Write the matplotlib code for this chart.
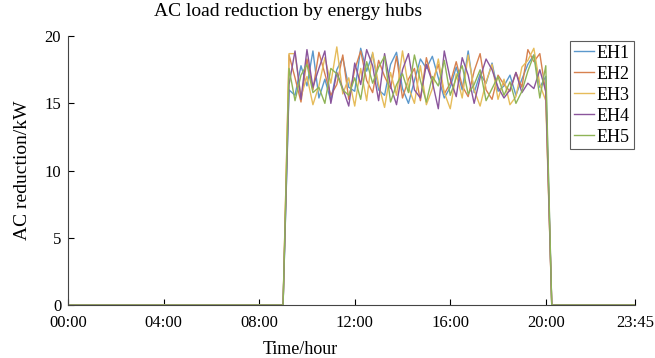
import numpy as np
import matplotlib.pyplot as plt

plt.rcParams['font.family'] = ['Liberation Serif', 'DejaVu Serif']

# 96 quarter-hour slots, 00:00 .. 23:45
slots = np.arange(96) * 0.25

# AC reduction (kW) while the hubs are active, 09:15 .. 20:00
on_start = 37
eh1 = [16.0, 15.6, 17.8, 16.3, 18.9, 15.4, 16.8, 15.2, 17.5, 18.4, 16.2, 15.9, 19.1, 17.4,
       18.7, 16.0, 15.6, 17.9, 18.8, 16.1, 15.0, 16.7, 18.3, 17.6, 18.5, 16.9, 15.4, 16.2,
       17.7, 16.0, 18.9, 15.8, 17.2, 16.5, 18.0, 15.9, 16.3, 17.1, 15.6, 16.8, 17.9, 18.6,
       16.2, 17.0]
eh2 = [18.6, 16.9, 15.1, 18.3, 16.0, 18.8, 17.2, 15.6, 16.4, 18.6, 15.3, 17.5, 18.9, 16.7,
       15.8, 18.2, 17.0, 16.1, 18.5, 15.4, 16.8, 17.6, 15.2, 18.4, 16.6, 17.9, 15.7, 16.5,
       18.1, 16.3, 15.5, 17.4, 18.7, 16.0, 15.3, 17.1, 16.4, 15.9, 17.3, 16.2, 19.0, 18.1,
       18.7, 15.8]
eh3 = [18.7, 18.7, 15.5, 17.0, 14.9, 16.3, 18.4, 16.5, 19.2, 15.7, 16.9, 14.8, 17.6, 15.2,
       18.8, 16.4, 14.7, 17.3, 15.6, 18.9, 16.2, 15.0, 17.8, 14.9, 16.1, 18.3, 15.8, 14.6,
       17.2, 15.4, 18.6, 16.0, 14.8, 16.6, 17.9, 15.3, 16.8, 14.9, 15.5, 17.7, 18.2, 19.1,
       16.4, 15.2]
eh4 = [16.4, 18.9, 15.3, 19.0, 16.2, 17.6, 18.9, 15.0, 17.3, 16.1, 14.8, 18.0, 16.4, 19.0,
       17.8, 15.2, 18.7, 16.3, 14.9, 17.5, 18.7, 16.0, 15.4, 17.9, 16.6, 14.6, 18.9, 16.8,
       15.5, 18.4, 17.1, 15.0, 16.9, 18.3, 17.5, 16.2, 15.4, 16.0, 17.3, 15.8, 16.5, 16.1,
       17.5, 15.9]
eh5 = [17.6, 15.2, 17.1, 17.9, 15.8, 16.2, 15.0, 17.6, 17.2, 16.0, 15.6, 16.9, 15.3, 18.1,
       16.5, 17.7, 18.5, 15.1, 16.4, 17.2, 15.8, 18.6, 16.7, 15.1, 17.0, 16.3, 18.2, 15.6,
       16.9, 17.8, 15.7, 16.4, 17.5, 15.2, 16.1, 17.0, 15.6, 16.6, 15.0, 15.9, 17.4, 18.6,
       15.4, 17.8]

names = ['EH1', 'EH2', 'EH3', 'EH4', 'EH5']
colors = ['#5b98cc', '#d7814f', '#e6bc5a', '#8a559c', '#8fb457']
tick_pos = [0, 4, 8, 12, 16, 20, 23.75]
tick_lab = ['00:00', '04:00', '08:00', '12:00', '16:00', '20:00', '23:45']

fig = plt.figure(figsize=(6.55, 3.58), dpi=100)
ax = fig.add_axes([0.104, 0.148, 0.866, 0.751])

for vals, name, c in zip([eh1, eh2, eh3, eh4, eh5], names, colors):
    y = np.zeros(96)
    y[on_start:on_start + len(vals)] = vals
    ax.plot(slots, y, color=c, lw=1.0, label=name)

ax.set_xlim(0, 23.75)
ax.set_ylim(0, 20)
ax.set_xticks(tick_pos)
ax.set_xticklabels(tick_lab)
ax.set_yticks([0, 5, 10, 15, 20])
ax.tick_params(direction='in', labelsize=12, length=4, width=0.8)
ax.tick_params(axis='x', pad=7)
ax.tick_params(axis='y', pad=5)
ax.spines['top'].set_visible(False)
ax.spines['right'].set_visible(False)
ax.spines['left'].set_color('#444444')
ax.spines['bottom'].set_color('#444444')

fig.text(288 / 655, 1 - 12 / 358, 'AC load reduction by energy hubs',
         fontsize=14, ha='center', va='center')
ax.set_xlabel('Time/hour', fontsize=13)
ax.xaxis.set_label_coords(0.41, -0.135)
ax.set_ylabel('AC reduction/kW', fontsize=14)
ax.yaxis.set_label_coords(-0.065, 0.5)

leg = ax.legend(loc='upper right', bbox_to_anchor=(1.0, 0.99), fontsize=13,
                handlelength=1.1, handletextpad=0.15, borderpad=0.22,
                labelspacing=0.22, fancybox=False, borderaxespad=0.1)
leg.get_frame().set_edgecolor('#333333')
leg.get_frame().set_linewidth(0.8)

fig.savefig('out.png', dpi=100)
